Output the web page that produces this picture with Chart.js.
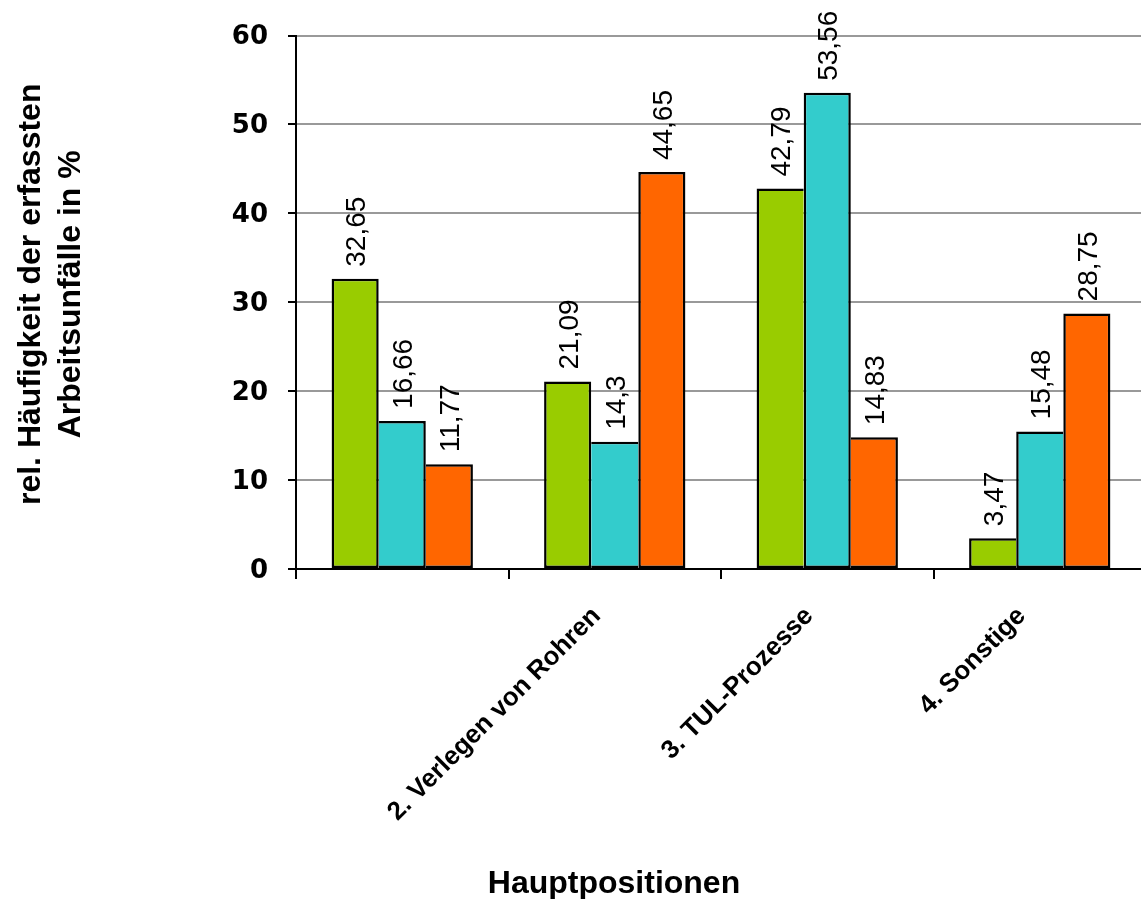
<!DOCTYPE html>
<html>
<head>
<meta charset="utf-8">
<style>
  html, body { margin: 0; padding: 0; overflow: hidden; background: #ffffff; }
  #wrap { width: 1146px; height: 899px; position: relative; }
</style>
<script src="https://cdn.jsdelivr.net/npm/chart.js@4/dist/chart.umd.min.js"></script>
</head>
<body>
<div id="wrap"><canvas id="chart"></canvas></div>
<script>
// Categories (main positions); the first one carries no printed label
const categories = ["", "2. Verlegen von Rohren", "3. TUL-Prozesse", "4. Sonstige"];

// Relative frequency of recorded accidents, in percent
const seriesGreen  = [32.65, 21.09, 42.79, 3.47];
const seriesCyan   = [16.66, 14.3, 53.56, 15.48];
const seriesOrange = [11.77, 44.65, 14.83, 28.75];

const yTickValues = [0, 10, 20, 30, 40, 50, 60];

const yTitleLines = ["rel. Häufigkeit der erfassten", "Arbeitsunfälle in %"];
const xTitle = "Hauptpositionen";

const fmt = v => String(v).replace('.', ',');

// Value labels written vertically above each bar
const valueLabels = {
  id: 'valueLabels',
  afterDatasetsDraw(chart) {
    const ctx = chart.ctx;
    const size = 28;
    ctx.save();
    ctx.fillStyle = '#000';
    ctx.font = size + 'px "Liberation Sans", Arial, sans-serif';
    ctx.textAlign = 'left';
    ctx.textBaseline = 'alphabetic';
    chart.data.datasets.forEach((ds, di) => {
      const meta = chart.getDatasetMeta(di);
      meta.data.forEach((bar, i) => {
        ctx.save();
        ctx.translate(bar.x, bar.y - 12);
        ctx.rotate(-Math.PI / 2);
        ctx.fillText(fmt(ds.data[i]), 0, size * 0.36);
        ctx.restore();
      });
    });
    ctx.restore();
  }
};

// Axis titles
const axisTitles = {
  id: 'axisTitles',
  afterDraw(chart) {
    const ctx = chart.ctx;
    const area = chart.chartArea;
    ctx.save();
    ctx.fillStyle = '#000';
    ctx.font = 'bold 32px "Liberation Sans", Arial, sans-serif';
    ctx.textAlign = 'center';
    ctx.textBaseline = 'middle';
    const cy = (area.top + area.bottom) / 2 - 8;
    const xs = [31, 71];
    yTitleLines.forEach((line, k) => {
      ctx.save();
      ctx.translate(xs[k], cy);
      ctx.rotate(-Math.PI / 2);
      ctx.fillText(line, 0, 0);
      ctx.restore();
    });
    ctx.fillText(xTitle, 614, 884);
    ctx.restore();
  }
};

// Adjacent bars share one outline: the taller bar of a pair owns the common edge
const EDGE = 2.5;
function barBorder(c) {
  const sets = c.chart.data.datasets;
  const d = c.datasetIndex, i = c.dataIndex;
  const v = sets[d].data[i];
  const prev = d > 0 ? sets[d - 1].data[i] : null;
  const next = d < sets.length - 1 ? sets[d + 1].data[i] : null;
  return {
    top: EDGE,
    bottom: EDGE,
    left: (prev === null || v >= prev) ? EDGE : 0,
    right: (next === null || v > next) ? EDGE : 0
  };
}

const barStyle = { borderColor: '#000', borderWidth: barBorder, borderSkipped: false,
                   barPercentage: 1.0, categoryPercentage: 0.665 };

new Chart(document.getElementById('chart'), {
  type: 'bar',
  data: {
    labels: categories,
    datasets: [
      Object.assign({ label: 'Reihe 1', data: seriesGreen,  backgroundColor: '#99CC00' }, barStyle),
      Object.assign({ label: 'Reihe 2', data: seriesCyan,   backgroundColor: '#33CCCC' }, barStyle),
      Object.assign({ label: 'Reihe 3', data: seriesOrange, backgroundColor: '#FF6600' }, barStyle)
    ]
  },
  options: {
    responsive: true,
    maintainAspectRatio: false,
    animation: false,
    layout: { padding: { top: 35, left: 0, right: 0, bottom: 0 } },
    plugins: { legend: { display: false }, tooltip: { enabled: false } },
    scales: {
      x: {
        offset: true,
        grid: { offset: true, drawOnChartArea: false, drawTicks: true, tickLength: 10,
                tickColor: '#000', lineWidth: 2 },
        border: { color: '#000', width: 2 },
        ticks: { color: '#000', minRotation: 45, maxRotation: 45, autoSkip: false,
                 padding: 22, labelOffset: -18,
                 font: { family: '"Liberation Sans", Arial, sans-serif', size: 26, weight: 'bold' } },
        afterFit(scale) { scale.height = 330; }
      },
      y: {
        min: 0, max: 60,
        afterBuildTicks(scale) { scale.ticks = yTickValues.map(v => ({ value: v })); },
        grid: { color: '#999999', lineWidth: 2, tickLength: 8, tickColor: '#000' },
        border: { color: '#000', width: 2 },
        ticks: { color: '#000', padding: 20, labelOffset: 2,
                 font: { family: '"DejaVu Sans", Verdana, sans-serif', size: 26, weight: 'bold' } },
        afterFit(scale) { scale.width = 296; }
      }
    }
  },
  plugins: [valueLabels, axisTitles]
});
</script>
</body>
</html>
